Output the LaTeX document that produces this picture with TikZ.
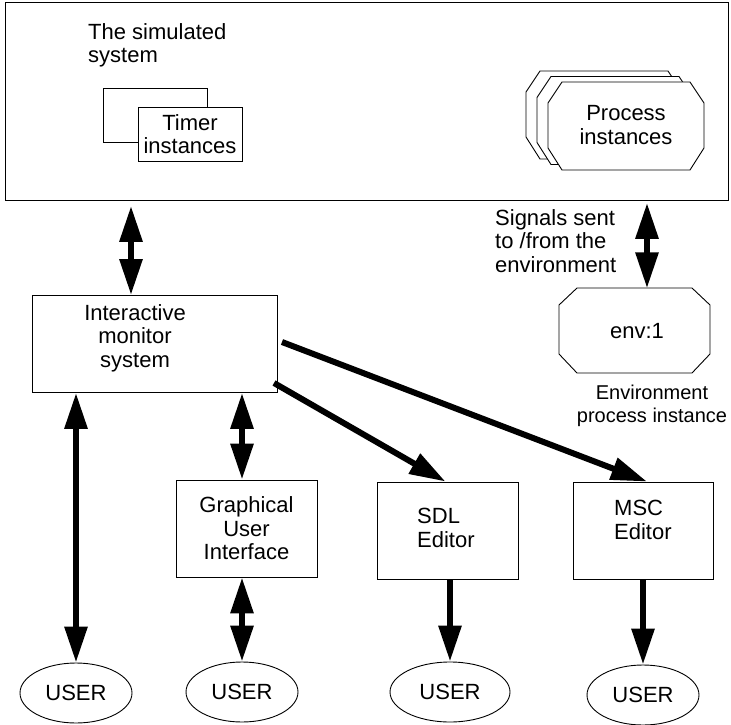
\documentclass[tikz,border=0pt]{standalone}
\usepackage{fontspec}
\setmainfont{Liberation Sans}
\usetikzlibrary{arrows.meta,shapes.geometric,calc}
\begin{document}
\begin{tikzpicture}[x=1pt,y=-1pt,
  every node/.style={font=\fontsize{22pt}{23.5pt}\selectfont, inner sep=0pt},
  box/.style={draw, line width=0.9pt, fill=white},
  thinline/.style={line width=0.9pt},
  >={Triangle[length=36pt,width=22pt]},
  arr/.style={line width=6pt},
  usr/.style={draw, ellipse, line width=0.9pt, minimum width=112pt, minimum height=60pt}]
\useasboundingbox (0,0) rectangle (731,725);

% simulated system
\node[draw, line width=0.9pt, anchor=north west, minimum width=723pt, minimum height=198pt] (sys) at (5,2) {};
\node[anchor=north west, align=left] (simlbl) at (88,23) {The simulated\\system};

% timers
\node[box, minimum width=104pt, minimum height=54pt] (timerback) at (155,115) {};
\node[box, minimum width=104pt, minimum height=54pt, align=center] (timer) at (190,134) {Timer\\instances};

% process instances
\foreach \dx/\dy in {-22/-11, -11/-5.5, 0/0}
  \draw[thinline, fill=white, shift={(\dx,\dy)}] (562,82) -- (690,82) -- (704,103) -- (704,148) -- (690,170) -- (562,170) -- (548,148) -- (548,103) -- cycle;
\node[align=center] (proc) at (626,125) {Process\\instances};

% environment
\draw[thinline] (577,288) -- (692,288) -- (710,305) -- (710,354) -- (692,373) -- (577,373) -- (559,354) -- (559,305) -- cycle;
\node[minimum width=151pt, minimum height=85pt] (env) at (637,331) {env:1};
\node[anchor=west, align=left] (siglbl) at (495,241) {Signals sent\\to /from the\\environment};
\node[align=center, font=\fontsize{20pt}{23.5pt}\selectfont] (envdesc) at (652,406) {Environment\\process instance};
\coordinate (envarr) at (647,0);
\draw[<->, arr] ([yshift=-2pt]sys.south -| envarr) -- (env.north -| envarr);

% monitor
\node[draw, line width=0.9pt, anchor=north west, minimum width=245pt, minimum height=97pt] (mon) at (32,295) {};
\node[align=center] (monlbl) at (135,338) {Interactive\\monitor\\system};
\coordinate (a1) at (131,0);
\draw[<->, arr] ([yshift=-5pt]sys.south -| a1) -- (mon.north -| a1);

% tools
\node[box, minimum width=141pt, minimum height=97pt, align=center] (gui) at (246.5,528.5) {Graphical\\User\\Interface};
\node[box, minimum width=141pt, minimum height=97pt] (sdl) at (447.5,530.5) {};
\node[anchor=west, align=left] (sdllbl) at (417,528) {SDL\\Editor};
\node[box, minimum width=140pt, minimum height=97pt] (msc) at (643,530.5) {};
\node[anchor=west, align=left] (msclbl) at (614,520) {MSC\\Editor};

% users
\node[usr] (u1) at (76,693) {USER};
\node[usr] (u2) at (242,692) {USER};
\node[usr, minimum width=120pt] (u3) at (450,692) {USER};
\node[usr] (u4) at (643,695) {USER};

% connectors
\draw[<->, arr] (u1.north) -- (mon.south -| u1);
\draw[<->, arr] (mon.south -| u2) -- (gui.north -| u2);
\draw[<->, arr] (gui.south -| u2) -- (u2.north);
\draw[->, arr] (sdl.south -| u3) -- (u3.north);
\draw[->, arr] (msc.south) -- (u4.north);
\coordinate (m1) at (282,342);
\coordinate (m2) at (274,383);
\draw[->, arr] (m2) -- ([xshift=-2pt]sdl.north);
\draw[->, arr] (m1) -- ([xshift=4pt]msc.north);
\end{tikzpicture}
\end{document}
